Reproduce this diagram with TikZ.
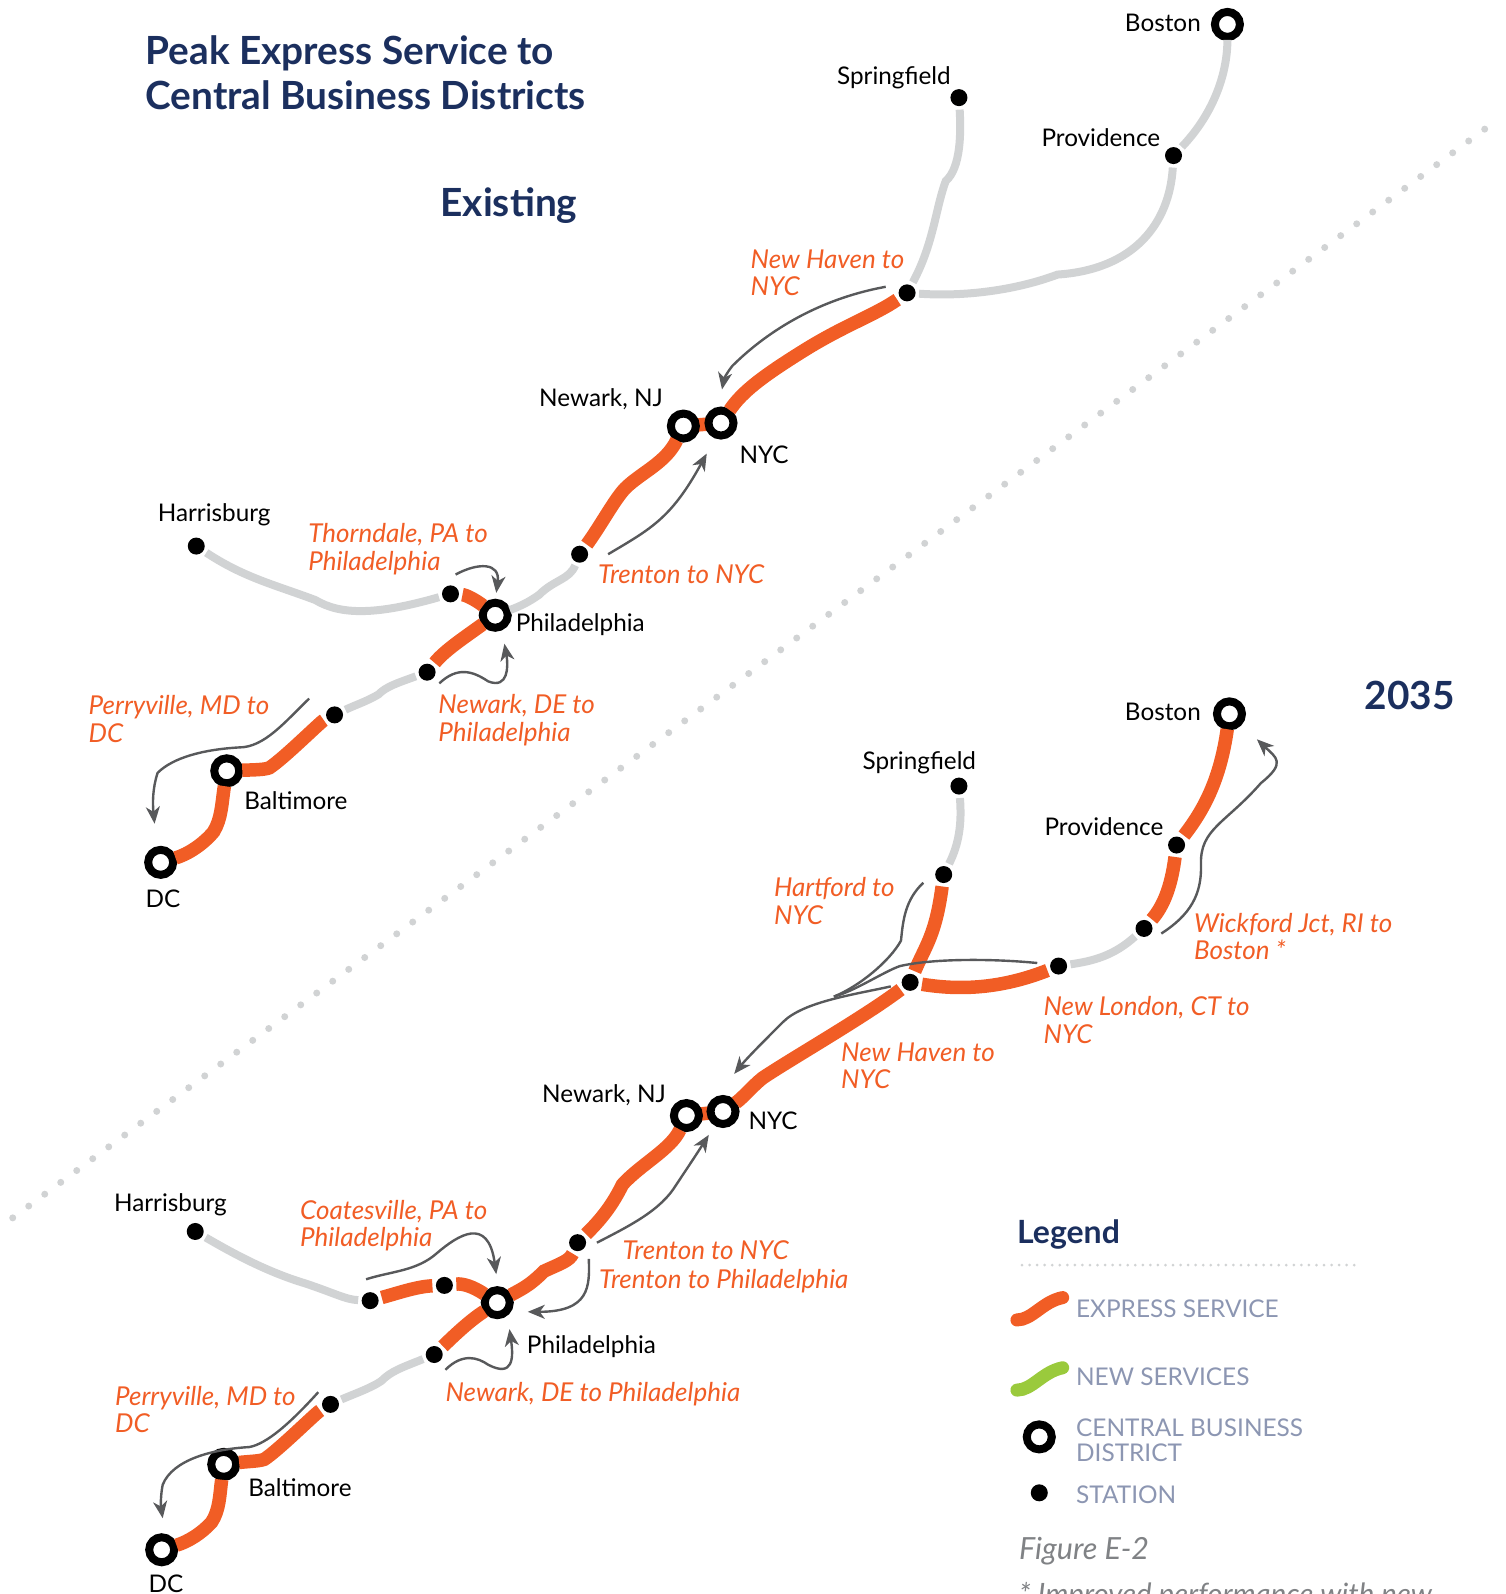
\documentclass[tikz,border=0pt]{standalone}
\usepackage{fontspec}
\setmainfont{Lato}
\usetikzlibrary{arrows.meta,backgrounds}
\definecolor{expr}{HTML}{F15D25}
\definecolor{newsv}{HTML}{9ACA3C}
\definecolor{track}{HTML}{D1D3D4}
\definecolor{arrowc}{HTML}{58595B}
\definecolor{navy}{HTML}{1B2F5E}
\definecolor{legendc}{HTML}{8C96B2}
\definecolor{figc}{HTML}{808285}
\tikzset{
  station/.style={circle,fill=black,inner sep=0pt,minimum size=17pt,outer sep=3.5pt},
  cbd/.style={circle,draw=black,line width=8pt,fill=white,inner sep=0pt,minimum size=25pt,outer sep=3pt},
  exprline/.style={draw=expr,line width=13.5pt},
  trackline/.style={draw=track,line width=8pt},
  flowline/.style={draw=arrowc,line width=2.4pt},
  flow/.style={flowline,-{Stealth[length=17pt,width=14pt,inset=5pt]}},
  place/.style={inner sep=0pt,anchor=west,text=black,font=\fontsize{24.3}{27}\selectfont},
  service/.style={inner sep=0pt,anchor=west,align=left,text=expr,font=\fontsize{26}{27.4}\selectfont\itshape},
  heading/.style={inner sep=0pt,anchor=west,align=left,text=navy,font=\fontsize{38.8}{45}\selectfont\bfseries},
  legendtext/.style={inner sep=0pt,anchor=west,align=left,text=legendc,font=\fontsize{24.4}{25}\selectfont},
}
\begin{document}
\begin{tikzpicture}[x=1.01689pt,y=-1.01689pt]
\useasboundingbox (0,0) rectangle (1480,1567.5);
\clip (0,0) rectangle (1480,1567.5);
% divider
\coordinate (divA) at (1460,127);
\coordinate (divB) at (12,1198);
\draw[track,line width=7pt,line cap=round,dash pattern=on 0pt off 19.9pt] (divA) -- (divB);
% headings
\node[heading] (title) at (143,72) {Peak Express Service to\\Central Business Districts};
\node[heading] (existing) at (433,202) {Existing};
\node[heading] (y2035) at (1342,684) {2035};
% ---------- Existing ----------
\node[cbd] (eBos) at (1207,24) {};
\node[station] (eSpr) at (943,96) {};
\node[station] (ePrv) at (1154,153) {};
\node[station] (eNH) at (892,288) {};
\node[cbd] (eEwr) at (672,419) {};
\node[cbd] (eNYC) at (709,416) {};
\node[station] (eTrn) at (570,545) {};
\node[cbd] (ePhl) at (487,605) {};
\node[station] (eThd) at (443,584) {};
\node[station] (eHar) at (193,537) {};
\node[station] (eNwk) at (420,661) {};
\node[station] (ePry) at (329,703) {};
\node[cbd] (eBal) at (223,758) {};
\node[cbd] (eDC) at (158,848) {};
\node[place,anchor=east] (lBos) at (1181,23) {Boston};
\node[place] (lSpr) at (823,76) {Springfield};
\node[place] (lPrv) at (1024,135) {Providence};
\node[place] (lEwr) at (530,393) {Newark, NJ};
\node[place] (lNYC) at (727,447) {NYC};
\node[place] (lHar) at (155,506) {Harrisburg};
\node[place] (lPhl) at (507,614) {Philadelphia};
\node[place] (lBal) at (240,787) {Baltimore};
\node[place] (lDC) at (143,884) {DC};
\node[service] (sNH) at (738,268) {New Haven to\\NYC};
\node[service] (sTrn) at (588,565) {Trenton to NYC};
\node[service] (sThd) at (303,540) {Thorndale, PA to\\Philadelphia};
\node[service] (sNwk) at (431,708) {Newark, DE to\\Philadelphia};
\node[service] (sPry) at (87,707) {Perryville, MD to\\DC};
% tracks
\draw[trackline] (eBos) .. controls (1207,70) and (1195,110) .. (ePrv);
\draw[trackline] (eSpr) .. controls (945,130) and (945,165) .. (930,178) .. controls (920,205) and (918,240) .. (eNH);
\draw[trackline] (ePrv) .. controls (1150,220) and (1115,265) .. (1040,270) .. controls (1000,285) and (950,292) .. (eNH);
\draw[trackline] (eTrn) .. controls (560,570) and (545,570) .. (530,585) .. controls (520,592) and (512,596) .. (ePhl);
\draw[trackline] (eHar) .. controls (240,568) and (270,575) .. (310,590) .. controls (335,605) and (370,605) .. (eThd);
\draw[trackline] (eNwk) .. controls (390,672) and (380,675) .. (372,683) .. controls (360,690) and (350,693) .. (ePry);
% express
\begin{scope}[on background layer]
\draw[exprline] (eEwr.center) -- (eNYC.center);
\end{scope}
\draw[exprline] (eNH) .. controls (860,310) and (830,320) .. (790,345) .. controls (750,370) and (730,385) .. (eNYC);
\draw[exprline] (eEwr) .. controls (655,455) and (630,465) .. (615,480) .. controls (605,490) and (590,518) .. (eTrn);
\draw[exprline] (eThd) .. controls (458,585) and (468,590) .. (ePhl);
\draw[exprline] (ePhl) .. controls (455,628) and (437,640) .. (eNwk);
\draw[exprline] (ePry) .. controls (315,710) and (280,745) .. (265,755) .. controls (260,757) and (250,757) .. (eBal);
\draw[exprline] (eBal) .. controls (218,790) and (218,805) .. (210,818) .. controls (200,830) and (185,840) .. (eDC);
% flows
\coordinate (fa1) at (871,282); \coordinate (fa2) at (710,383);
\draw[flow] (fa1) .. controls (800,295) and (750,330) .. (720,360) .. controls (716,365) and (712,372) .. (fa2);
\coordinate (fb1) at (598,545); \coordinate (fb2) at (695,446);
\draw[flow] (fb1) .. controls (640,520) and (660,510) .. (fb2);
\coordinate (fc1) at (448,565); \coordinate (fc2) at (488,583);
\draw[flow] (fc1) .. controls (470,553) and (492,553) .. (fc2);
\coordinate (fd1) at (432,672); \coordinate (fd2) at (496,633);
\draw[flow] (fd1) .. controls (450,655) and (465,660) .. (480,670) .. controls (500,678) and (500,655) .. (fd2);
\coordinate (fe1) at (304,687); \coordinate (fe2) at (152,810);
\draw[flow] (fe1) .. controls (280,710) and (260,735) .. (235,735) .. controls (200,737) and (170,745) .. (155,760) .. controls (150,775) and (150,790) .. (fe2);
% ---------- 2035 ----------
\node[cbd] (nBos) at (1209,702) {};
\node[station] (nSpr) at (943,773) {};
\node[station] (nPrv) at (1157,831) {};
\node[station] (nHrt) at (928,860) {};
\node[station] (nWik) at (1125,913) {};
\node[station] (nNL) at (1041,950) {};
\node[station] (nNH) at (895,966) {};
\node[cbd] (nEwr) at (675,1097) {};
\node[cbd] (nNYC) at (711,1093) {};
\node[station] (nTrn) at (568,1222) {};
\node[cbd] (nPhl) at (489,1281) {};
\node[station] (nTh) at (437,1264) {};
\node[station] (nCts) at (364,1279) {};
\node[station] (nHar) at (192,1211) {};
\node[station] (nNwk) at (427,1332) {};
\node[station] (nPry) at (325,1381) {};
\node[cbd] (nBal) at (220,1440) {};
\node[cbd] (nDC) at (159,1524) {};
\node[place,anchor=east] (mBos) at (1181,700) {Boston};
\node[place] (mSpr) at (848,750) {Springfield};
\node[place] (mPrv) at (1027,813) {Providence};
\node[place] (mEwr) at (533,1077) {Newark, NJ};
\node[place] (mNYC) at (736,1102) {NYC};
\node[place] (mHar) at (112,1185) {Harrisburg};
\node[place] (mPhl) at (518,1324) {Philadelphia};
\node[place] (mBal) at (244,1463) {Baltimore};
\node[place] (mDC) at (146,1557) {DC};
\node[service] (tHrt) at (761,886) {Hartford to\\NYC};
\node[service] (tWik) at (1174,921) {Wickford Jct, RI to\\Boston *};
\node[service] (tNL) at (1026,1003) {New London, CT to\\NYC};
\node[service] (tNH) at (827,1048) {New Haven to\\NYC};
\node[service] (tTN) at (612,1229) {Trenton to NYC};
\node[service] (tTP) at (589,1260) {Trenton to Philadelphia};
\node[service] (tCts) at (295,1205) {Coatesville, PA to\\Philadelphia};
\node[service] (tNwk) at (438,1371) {Newark, DE to Philadelphia};
\node[service] (tPry) at (113,1386) {Perryville, MD to\\DC};
% tracks
\draw[trackline] (nSpr) .. controls (946,810) and (943,830) .. (nHrt);
\draw[trackline] (nWik) .. controls (1095,940) and (1075,945) .. (nNL);
\draw[trackline] (nHar) .. controls (225,1230) and (260,1250) .. (300,1262) .. controls (330,1272) and (340,1278) .. (nCts);
\draw[trackline] (nNwk) .. controls (395,1345) and (385,1348) .. (375,1358) .. controls (365,1365) and (345,1372) .. (nPry);
% express
\begin{scope}[on background layer]
\draw[exprline] (nEwr.center) -- (nNYC.center);
\end{scope}
\draw[exprline] (nBos) .. controls (1200,765) and (1185,795) .. (nPrv);
\draw[exprline] (nPrv) .. controls (1152,870) and (1145,890) .. (nWik);
\draw[exprline] (nNL) .. controls (990,970) and (950,975) .. (nNH);
\draw[exprline] (nHrt) .. controls (920,920) and (910,930) .. (nNH);
\draw[exprline] (nNH) .. controls (850,1000) and (780,1040) .. (750,1060) .. controls (740,1068) and (730,1080) .. (nNYC);
\draw[exprline] (nEwr) .. controls (660,1130) and (630,1145) .. (612,1165) .. controls (600,1190) and (585,1205) .. (nTrn);
\draw[exprline] (nTrn) .. controls (560,1240) and (550,1243) .. (535,1250) .. controls (520,1265) and (512,1268) .. (nPhl);
\draw[exprline] (nPhl) .. controls (465,1265) and (455,1262) .. (nTh);
\draw[exprline] (nTh) .. controls (410,1265) and (390,1272) .. (nCts);
\draw[exprline] (nPhl) .. controls (460,1300) and (445,1315) .. (nNwk);
\draw[exprline] (nPry) .. controls (310,1390) and (275,1425) .. (260,1435) .. controls (255,1437) and (245,1437) .. (nBal);
\draw[exprline] (nBal) .. controls (216,1470) and (216,1485) .. (208,1497) .. controls (198,1508) and (185,1516) .. (nDC);
% flows
\coordinate (ga1) at (1142,918); \coordinate (ga2) at (1236,727);
\draw[flow] (ga1) .. controls (1170,900) and (1182,880) .. (1181,850) .. controls (1180,815) and (1205,810) .. (1240,770) .. controls (1265,750) and (1255,745) .. (ga2);
\coordinate (gb1) at (908,868); \coordinate (gj) at (820,980);
\draw[flowline] (gb1) .. controls (890,885) and (888,905) .. (886,925) .. controls (875,945) and (845,970) .. (gj);
\coordinate (gc1) at (1020,947);
\draw[flowline] (gc1) .. controls (980,943) and (920,942) .. (885,950) .. controls (870,955) and (840,975) .. (gj);
\coordinate (gd1) at (876,970); \coordinate (gd2) at (722,1056);
\draw[flow] (gd1) .. controls (840,978) and (790,985) .. (770,1005) .. controls (750,1025) and (735,1040) .. (gd2);
\coordinate (ge1) at (587,1222); \coordinate (ge2) at (697,1116);
\draw[flow] (ge1) .. controls (620,1205) and (650,1190) .. (665,1165) .. controls (675,1150) and (685,1135) .. (ge2);
\coordinate (gf1) at (579,1238); \coordinate (gf2) at (519,1290);
\draw[flow] (gf1) .. controls (580,1265) and (580,1290) .. (gf2);
\coordinate (gg1) at (360,1258); \coordinate (gg2) at (488,1253);
\draw[flow] (gg1) .. controls (385,1250) and (410,1250) .. (430,1232) .. controls (450,1215) and (480,1195) .. (gg2);
\coordinate (gh1) at (438,1347); \coordinate (gh2) at (501,1307);
\draw[flow] (gh1) .. controls (455,1330) and (470,1335) .. (480,1342) .. controls (505,1355) and (505,1335) .. (gh2);
\coordinate (gi1) at (313,1369); \coordinate (gi2) at (160,1493);
\draw[flow] (gi1) .. controls (285,1400) and (262,1420) .. (245,1423) .. controls (210,1425) and (170,1435) .. (160,1460) .. controls (158,1470) and (158,1480) .. (gi2);
% ---------- Legend ----------
\node[heading,font=\fontsize{32}{32}\selectfont\bfseries] (legend) at (1000,1214) {Legend};
\coordinate (ldA) at (1005,1244); \coordinate (ldB) at (1338,1244);
\draw[track,line width=3pt,line cap=round,dash pattern=on 0pt off 7.55pt] (ldA) -- (ldB);
\coordinate (lx1) at (1000,1298); \coordinate (lx2) at (1045,1276);
\draw[draw=expr,line width=13pt,line cap=round] (lx1) .. controls (1015,1298) and (1025,1280) .. (lx2);
\coordinate (ln1) at (1000,1367); \coordinate (ln2) at (1045,1345);
\draw[draw=newsv,line width=13pt,line cap=round] (ln1) .. controls (1015,1367) and (1025,1349) .. (ln2);
\node[legendtext] (lE) at (1058,1287) {EXPRESS SERVICE};
\node[legendtext] (lN) at (1058,1354) {NEW SERVICES};
\node[cbd] (lC) at (1022,1413) {};
\node[legendtext] (lD) at (1058,1416) {CENTRAL BUSINESS\\DISTRICT};
\node[station] (lS) at (1022,1468) {};
\node[legendtext] (lT) at (1058,1470) {STATION};
\node[inner sep=0pt,anchor=west,text=figc,font=\fontsize{30.5}{30}\selectfont\itshape] (fig) at (1002,1525) {Figure E-2};
\node[inner sep=0pt,anchor=base west,text=figc,font=\fontsize{29.4}{30}\selectfont\itshape] (note) at (1002,1578) {* Improved performance with new};
\end{tikzpicture}
\end{document}
